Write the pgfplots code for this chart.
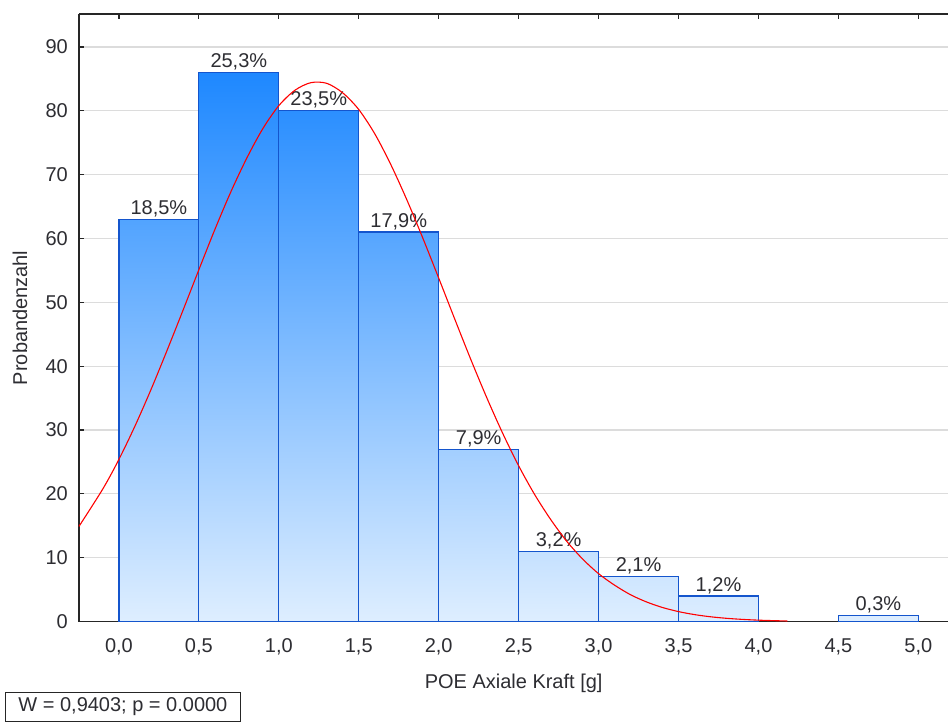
\documentclass[border=0pt]{standalone}
\usepackage{pgfplots}
\pgfplotsset{compat=1.18}
\usepackage{fontspec}
\setmainfont{Liberation Sans}
\definecolor{darkb}{RGB}{30,136,255}
\definecolor{lightb}{RGB}{222,238,255}
\definecolor{edgeb}{RGB}{20,85,205}
\definecolor{gridc}{RGB}{220,220,220}
\definecolor{txt}{RGB}{45,45,50}
\newcommand{\fs}{\fontsize{20}{24}\selectfont}
\pgfplotsset{layers/mylayers/.define layer set={axis background,axis grid,main,axis ticks,axis lines,axis tick labels,axis descriptions,axis foreground}{}}
\begin{document}
\begin{tikzpicture}
\begin{axis}[
  set layers=mylayers,
  scale only axis,
  width=870pt, height=608pt,
  xmin=-0.25, xmax=5.1875,
  ymin=0, ymax=95.16,
  clip=false,
  axis x line=box, axis y line=left,
  axis line style={line width=1.3pt, color=black!85},
  y axis line style={-},
  x axis line style={-},
  xtick={0,0.5,1,1.5,2,2.5,3,3.5,4,4.5,5},
  xticklabels={{0,0},{0,5},{1,0},{1,5},{2,0},{2,5},{3,0},{3,5},{4,0},{4,5},{5,0}},
  ytick={0,10,20,30,40,50,60,70,80,90},
  yticklabels={0,10,20,30,40,50,60,70,80,90},
  xtick pos=both, ytick pos=left,
  tick align=inside,
  major tick length=5pt,
  tick style={line width=1.2pt, color=black!85},
  ymajorgrids,
  grid style={line width=1.2pt, color=gridc},
  xticklabel style={font=\fs, text=txt, anchor=base, inner sep=0pt, yshift=-31pt},
  yticklabel style={font=\fs, text=txt, anchor=east, inner sep=0pt, xshift=-11pt},
  xlabel={POE Axiale Kraft [g]},
  ylabel={Probandenzahl},
  every axis x label/.style={at={(axis description cs:0.5,0)}, anchor=base, yshift=-67pt, font=\fs, text=txt},
  every axis y label/.style={at={([xshift=-59pt]axis description cs:0,0.5)}, rotate=90, anchor=center, font=\fs, text=txt},
]
\addplot[draw=edgeb, line width=1.2pt, top color=darkb!73!lightb, bottom color=lightb] coordinates {(0,63) (0.5,63)} \closedcycle;
\addplot[draw=edgeb, line width=1.2pt, top color=darkb, bottom color=lightb] coordinates {(0.5,86) (1,86)} \closedcycle;
\addplot[draw=edgeb, line width=1.2pt, top color=darkb!93!lightb, bottom color=lightb] coordinates {(1,80) (1.5,80)} \closedcycle;
\addplot[draw=edgeb, line width=1.2pt, top color=darkb!71!lightb, bottom color=lightb] coordinates {(1.5,61) (2,61)} \closedcycle;
\addplot[draw=edgeb, line width=1.2pt, top color=darkb!31!lightb, bottom color=lightb] coordinates {(2,27) (2.5,27)} \closedcycle;
\addplot[draw=edgeb, line width=1.2pt, top color=darkb!13!lightb, bottom color=lightb] coordinates {(2.5,11) (3,11)} \closedcycle;
\addplot[draw=edgeb, line width=1.2pt, top color=darkb!8!lightb, bottom color=lightb] coordinates {(3,7) (3.5,7)} \closedcycle;
\addplot[draw=edgeb, line width=1.2pt, top color=darkb!5!lightb, bottom color=lightb] coordinates {(3.5,4) (4,4)} \closedcycle;
\addplot[draw=edgeb, line width=1.2pt, top color=darkb!1!lightb, bottom color=lightb] coordinates {(4.5,1) (5,1)} \closedcycle;

\node[anchor=base, yshift=5pt, font=\fs, text=txt] at (axis cs:0.25,63) {18,5\%};
\node[anchor=base, yshift=5pt, font=\fs, text=txt] at (axis cs:0.75,86) {25,3\%};
\node[anchor=base, yshift=5pt, font=\fs, text=txt] at (axis cs:1.25,80) {23,5\%};
\node[anchor=base, yshift=5pt, font=\fs, text=txt] at (axis cs:1.75,61) {17,9\%};
\node[anchor=base, yshift=5pt, font=\fs, text=txt] at (axis cs:2.25,27) {7,9\%};
\node[anchor=base, yshift=5pt, font=\fs, text=txt] at (axis cs:2.75,11) {3,2\%};
\node[anchor=base, yshift=5pt, font=\fs, text=txt] at (axis cs:3.25,7) {2,1\%};
\node[anchor=base, yshift=5pt, font=\fs, text=txt] at (axis cs:3.75,4) {1,2\%};
\node[anchor=base, yshift=5pt, font=\fs, text=txt] at (axis cs:4.75,1) {0,3\%};

\addplot[on layer=axis foreground, red, line width=1.1pt, smooth] coordinates {
(-0.25,14.9) (-0.1,20.8) (0,25.4) (0.1,30.6) (0.2,36.3) (0.3,42.4) (0.4,48.7) (0.5,55.1)
(0.6,61.4) (0.7,67.3) (0.8,72.6) (0.9,77.2) (1.0,80.8) (1.1,83.2) (1.2,84.4) (1.3,84.3)
(1.4,82.8) (1.5,80.2) (1.6,76.4) (1.7,71.6) (1.8,66.1) (1.9,60.1) (2.0,53.8) (2.1,47.4)
(2.2,41.1) (2.3,35.1) (2.4,29.5) (2.5,24.4) (2.6,19.9) (2.7,16.0) (2.8,12.6) (2.9,9.8)
(3.0,7.5) (3.1,5.7) (3.2,4.2) (3.3,3.07) (3.4,2.2) (3.5,1.56) (3.6,1.09) (3.7,0.75)
(3.8,0.51) (3.9,0.34) (4.0,0.22) (4.1,0.14) (4.18,0.09)};

\node[draw=black!85, line width=1pt, anchor=south west, minimum width=235pt, minimum height=30pt, inner xsep=6pt, font=\fs, text=txt] at ([shift={(-74pt,-101pt)}]rel axis cs:0,0) {W = 0,9403; p = 0.0000};
\path ([shift={(-79pt,-102pt)}]rel axis cs:0,0) rectangle ([shift={(0pt,14pt)}]rel axis cs:1,1);
\end{axis}
\end{tikzpicture}
\end{document}
